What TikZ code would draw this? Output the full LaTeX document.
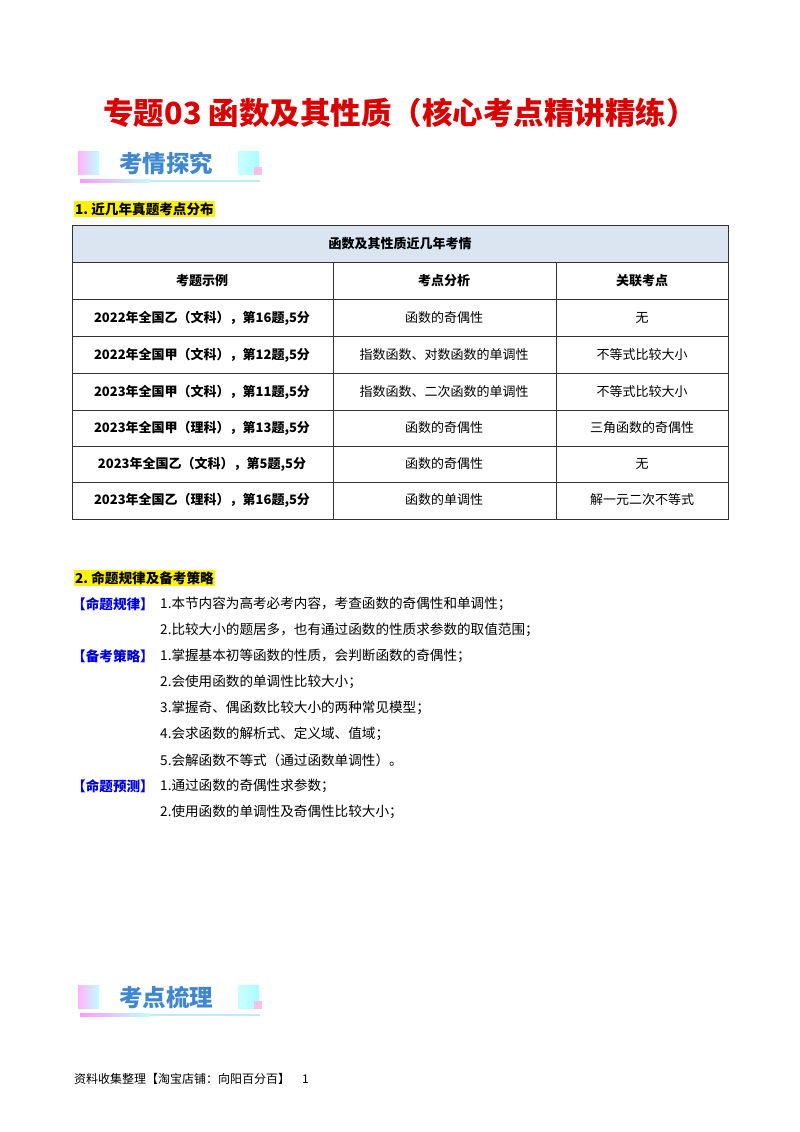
\documentclass[tikz,border=0pt]{standalone}
\usepackage{fontspec}
\setmainfont{Liberation Serif}
\newfontfamily\cjk{Noto Sans CJK SC}
\definecolor{hdr}{HTML}{DBE5F1}
\begin{document}
\begin{tikzpicture}[x=1pt,y=-1pt,
  txt/.style={anchor=west,inner sep=0,font=\cjk\fontsize{13.6}{14}\selectfont},
  cell/.style={inner sep=0,font=\cjk\fontsize{13}{14}\selectfont},
  bcell/.style={inner sep=0,font=\cjk\bfseries\fontsize{13}{14}\selectfont},
  lab/.style={anchor=west,inner sep=0,text=blue!85!black,font=\cjk\bfseries\fontsize{13.6}{14}\selectfont},
  sec/.style={anchor=west,inner sep=1pt,fill=yellow,font=\cjk\bfseries\fontsize{13.6}{14}\selectfont},
  badge/.style={anchor=west,inner sep=0,text=cyan!55!blue!80!white,font=\cjk\bfseries\fontsize{23.5}{24}\selectfont}]
\useasboundingbox (0,0) rectangle (800,1132);
\fill[white] (0,0) rectangle (800,1132);
\node[inner sep=0,text=red!85!black,font=\cjk\bfseries\fontsize{30.5}{31}\selectfont] (title) at (400,113) {专题03\ 函数及其性质（核心考点精讲精练）};
\foreach \yy/\tt/\nm in {163/考情探究/b1,997/考点梳理/b2}{
  \shade[left color=magenta!30,right color=cyan!25] (78,\yy-12) rectangle (99,\yy+11);
  \shade[left color=cyan!20,right color=cyan!35] (238,\yy-12) rectangle (259,\yy+11);
  \fill[magenta!25] (254,\yy+4) rectangle (262,\yy+12);
  \shade[left color=magenta!40,right color=cyan!25] (80,\yy+16) rectangle (150,\yy+19);
  \fill[cyan!25] (150,\yy+17) rectangle (260,\yy+18.5);
  \node[badge] (\nm) at (119,\yy) {\tt};
}
\node[sec] (s1) at (74,209) {1.\ 近几年真题考点分布};
\fill[hdr] (72,225) rectangle (728,262);
\draw[black!80,line width=0.6] (72,225) rectangle (728,519);
\foreach \yy in {262,299,336,373,410,446,482} \draw[black!80,line width=0.6] (72,\yy) -- (728,\yy);
\draw[black!80,line width=0.6] (333,262) -- (333,519) (556,262) -- (556,519);
\node[bcell] (th) at (400,244) {函数及其性质近几年考情};
\node[bcell] (h1) at (202,281) {考题示例};
\node[bcell] (h2) at (444,281) {考点分析};
\node[bcell] (h3) at (642,281) {关联考点};
\foreach \yy/\a/\b/\c [count=\i] in {
 318/{2022年全国乙（文科），第16题,5分}/函数的奇偶性/无,
 355/{2022年全国甲（文科），第12题,5分}/指数函数、对数函数的单调性/不等式比较大小,
 392/{2023年全国甲（文科），第11题,5分}/指数函数、二次函数的单调性/不等式比较大小,
 428/{2023年全国甲（理科），第13题,5分}/函数的奇偶性/三角函数的奇偶性,
 464/{2023年全国乙（文科），第5题,5分}/函数的奇偶性/无,
 500/{2023年全国乙（理科），第16题,5分}/函数的单调性/解一元二次不等式}{
  \node[bcell] (r\i a) at (202,\yy) {\a};
  \node[cell] (r\i b) at (444,\yy) {\b};
  \node[cell] (r\i c) at (642,\yy) {\c};
}
\node[sec] (s2) at (74,578) {2.\ 命题规律及备考策略};
\node[lab] (l1) at (72,604) {【命题规律】};
\node[txt] (t1) at (160,604) {1.本节内容为高考必考内容，考查函数的奇偶性和单调性；};
\node[txt] (t2) at (160,630) {2.比较大小的题居多，也有通过函数的性质求参数的取值范围；};
\node[lab] (l2) at (72,656) {【备考策略】};
\node[txt] (t3) at (160,656) {1.掌握基本初等函数的性质，会判断函数的奇偶性；};
\node[txt] (t4) at (160,682) {2.会使用函数的单调性比较大小；};
\node[txt] (t5) at (160,708) {3.掌握奇、偶函数比较大小的两种常见模型；};
\node[txt] (t6) at (160,734) {4.会求函数的解析式、定义域、值域；};
\node[txt] (t7) at (160,760) {5.会解函数不等式（通过函数单调性）。};
\node[lab] (l3) at (72,786) {【命题预测】};
\node[txt] (t8) at (160,786) {1.通过函数的奇偶性求参数；};
\node[txt] (t9) at (160,812) {2.使用函数的单调性及奇偶性比较大小；};
\node[anchor=west,inner sep=0,font=\cjk\fontsize{12}{12}\selectfont] (foot) at (74,1079) {资料收集整理【淘宝店铺：向阳百分百】\quad 1};
\end{tikzpicture}
\end{document}
